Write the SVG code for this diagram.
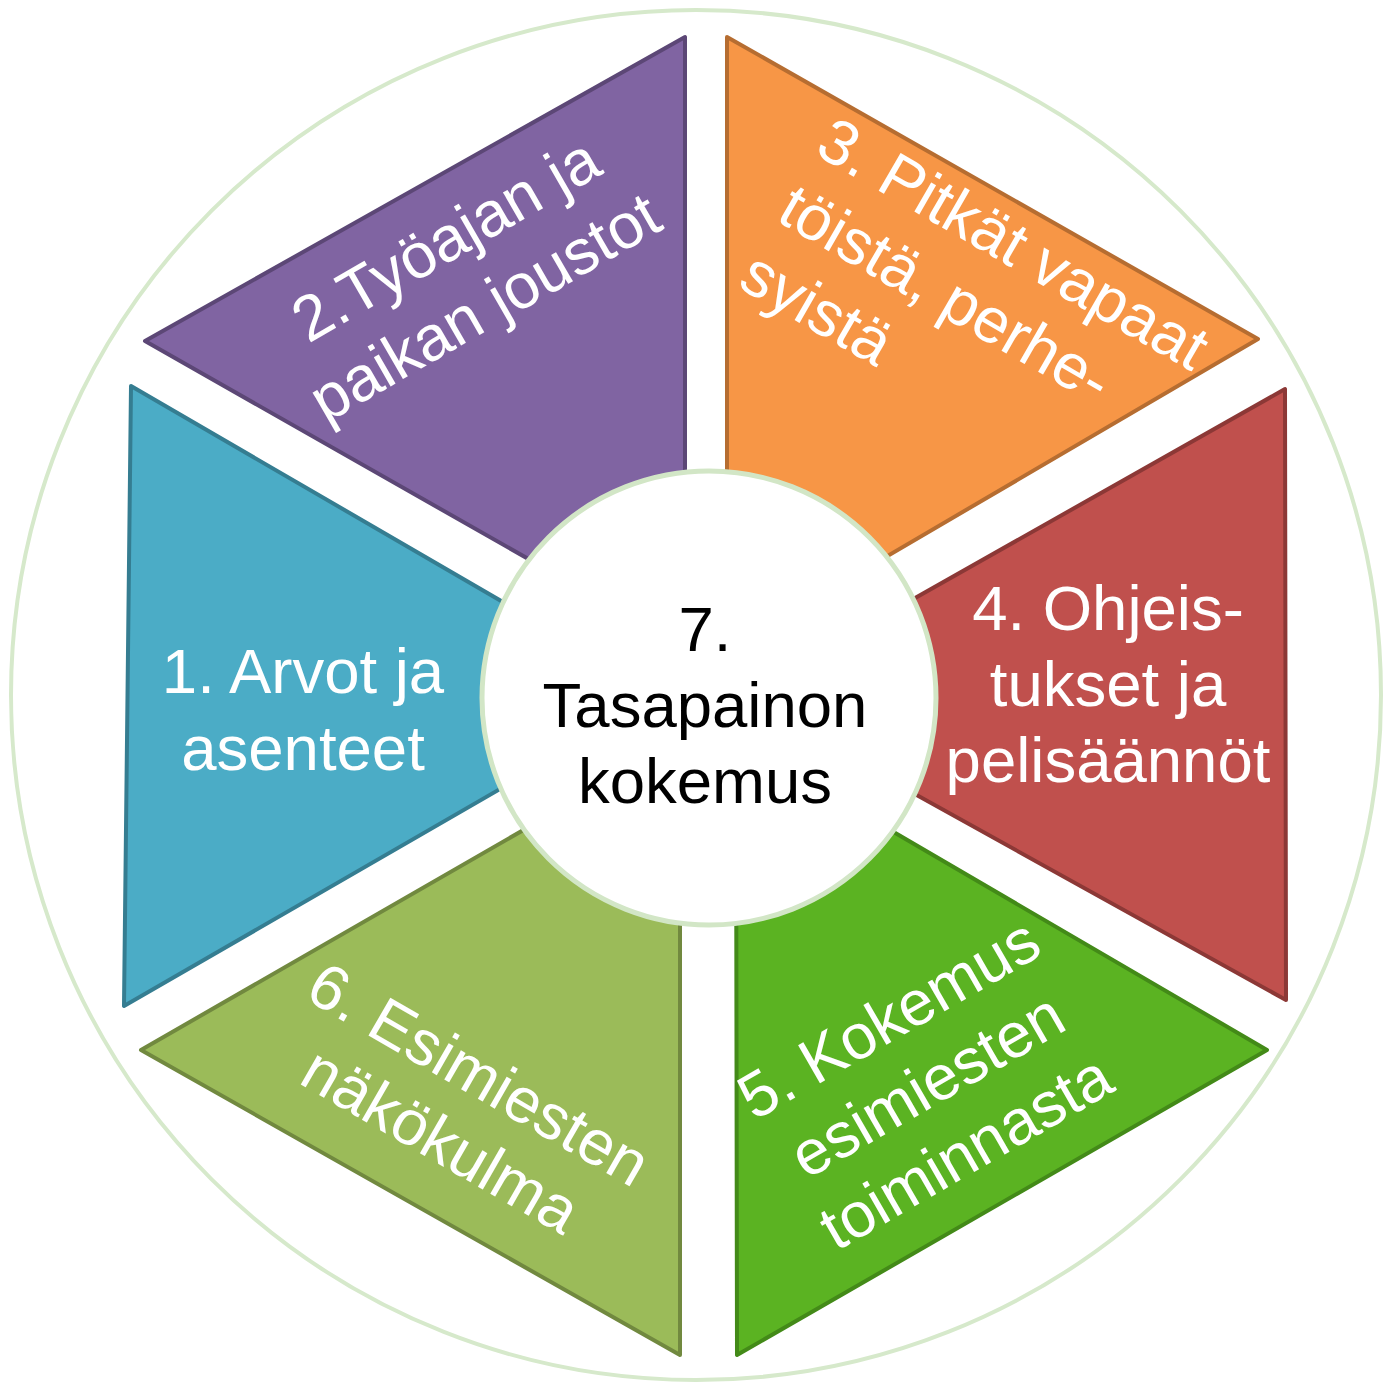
<svg xmlns="http://www.w3.org/2000/svg" width="1383" height="1385" viewBox="0 0 1383 1385">
<style>
.seg{stroke-width:4;stroke-linejoin:round}
.lbl{font-family:"Liberation Sans",Arial,sans-serif;font-size:63.5px;fill:#ffffff;text-anchor:middle}
.lbl-start{text-anchor:start}
.center{fill:#000000}
.ring{fill:none;stroke:#d6e9cb;stroke-width:4}
</style>
<rect x="0" y="0" width="1383" height="1385" fill="#ffffff"/>
<circle id="outer-ring" class="ring" cx="696" cy="695" r="685"/>

<g id="node-1">
<polygon class="seg" points="131,386 663,695 124,1006" fill="#4bacc6" stroke="#357d91"/>
<text class="lbl" x="303" y="693">1. Arvot ja</text>
<text class="lbl" x="303" y="770">asenteet</text>
</g>

<g id="node-2">
<polygon class="seg" points="685,37 685,648 145,341" fill="#8064a2" stroke="#5c4776"/>
<g transform="translate(476,292) rotate(-30)">
<text class="lbl" x="0" y="-39">2.Työajan ja</text>
<text class="lbl" x="0" y="39">paikan joustot</text>
</g>
</g>

<g id="node-3">
<polygon class="seg" points="727,37 1258,339 727,650" fill="#f79646" stroke="#b66d31"/>
<g transform="translate(813,153) rotate(30)">
<text class="lbl lbl-start" x="0" y="0">3. Pitkät vapaat</text>
<text class="lbl lbl-start" x="0" y="77">töistä, perhe-</text>
<text class="lbl lbl-start" x="0" y="154">syistä</text>
</g>
</g>

<g id="node-4">
<polygon class="seg" points="1285,389 1286,1000 740,697" fill="#c0504d" stroke="#8c3836"/>
<text class="lbl" x="1108" y="630">4. Ohjeis-</text>
<text class="lbl" x="1108" y="706">tukset ja</text>
<text class="lbl" x="1108" y="782">pelisäännöt</text>
</g>

<g id="node-5">
<polygon class="seg" points="736,740 1267,1050 737,1355" fill="#5bb322" stroke="#438a18"/>
<g transform="translate(938,1104) rotate(-30)">
<text class="lbl" x="0" y="-77">5. Kokemus</text>
<text class="lbl" x="0" y="0">esimiesten</text>
<text class="lbl" x="0" y="77">toiminnasta</text>
</g>
</g>

<g id="node-6">
<polygon class="seg" points="680,740 680,1355 141,1050" fill="#9bbb59" stroke="#71893f"/>
<g transform="translate(449,1126) rotate(30)">
<text class="lbl" x="0" y="-38">6. Esimiesten</text>
<text class="lbl" x="0" y="38">näkökulma</text>
</g>
</g>

<g id="node-7">
<circle cx="709" cy="698" r="227" fill="#ffffff" stroke="#d2e6c6" stroke-width="5"/>
<text class="lbl center" x="705" y="651">7.</text>
<text class="lbl center" x="705" y="727">Tasapainon</text>
<text class="lbl center" x="705" y="803">kokemus</text>
</g>

<g id="connectors"></g>
</svg>
